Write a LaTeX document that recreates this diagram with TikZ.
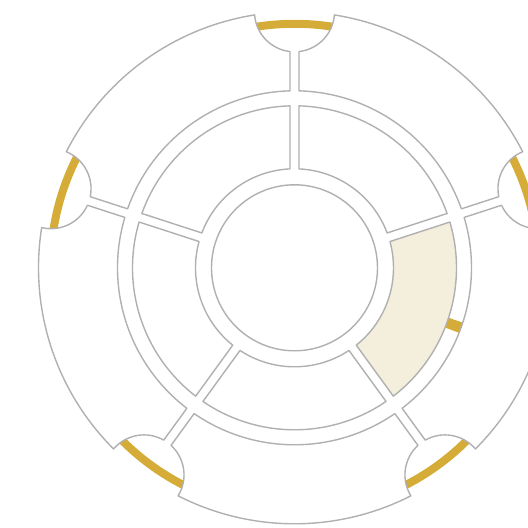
\documentclass[tikz,border=0pt]{standalone}
\definecolor{wallgrey}{HTML}{B0B0B0}
\definecolor{goldtrack}{HTML}{D4AC37}
\definecolor{creamfill}{HTML}{F4EEDC}
\begin{document}
\begin{tikzpicture}[
  x=1pt,y=1pt,
  room/.style={draw=wallgrey,line width=1.4pt,line join=round},
  track/.style={draw=goldtrack,line width=8pt}
]
\useasboundingbox (-294.5,-260.2) rectangle (233.5,267.8);
% gold tracks, the rooms cover most of them
\draw[track] (0,0) circle[radius=244];
\draw[track,line width=15pt] (-18:169.5) arc[start angle=-18,end angle=-21.6,radius=169.5];
\foreach \a/\col in {18/white,90/white,162/white,234/white,306/creamfill}{
  \begin{scope}[rotate=\a]
    % outer room, notched at both ends
    \draw[room,fill=white] (1.457:177) -- (216.254,4.5)
      arc[start angle=173.54,end angle=94.481,radius=40]
      arc[start angle=8.962,end angle=63.038,radius=256]
      arc[start angle=-22.481,end angle=-101.54,radius=40]
      -- (70.543:177) arc[start angle=70.543,end angle=1.457,radius=177] -- cycle;
    % inner room
    \draw[room,fill=\col] (2.605:99) -- (1.592:162)
      arc[start angle=1.592,end angle=70.408,radius=162]
      -- (69.395:99) arc[start angle=69.395,end angle=2.605,radius=99] -- cycle;
  \end{scope}
}
\draw[room,fill=white] (0,0) circle[radius=83];
\end{tikzpicture}
\end{document}
